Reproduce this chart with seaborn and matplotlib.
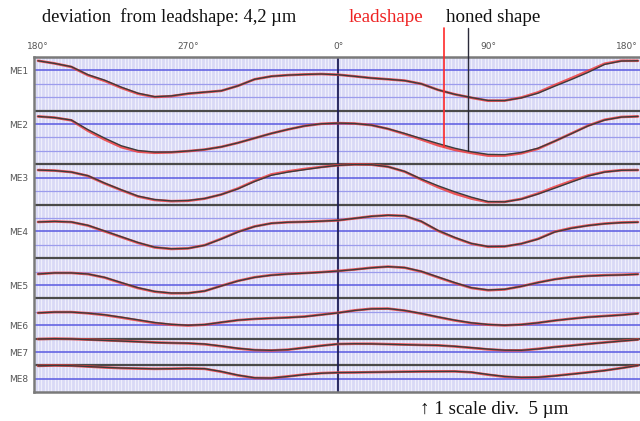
import numpy as np
import pandas as pd
import matplotlib
matplotlib.use("Agg")
import matplotlib.pyplot as plt
import seaborn as sns

# ---------------- data (deviation in scale divisions, 1 div = 5 µm) ----------------
ANGLES = list(range(-180, 181, 10))          # -180 == 180°, -90 == 270°
ROWS = ["ME1", "ME2", "ME3", "ME4", "ME5", "ME6", "ME7", "ME8"]
TICK_POS = [-180, -90, 0, 90, 180]
TICK_LABELS = ["180°", "270°", "0°", "90°", "180°"]

me1_honed = [0.72, 0.52, 0.28, -0.32, -0.73, -1.25, -1.70, -1.96, -1.90,
             -1.72, -1.62, -1.52, -1.15, -0.66, -0.44, -0.35, -0.30, -0.27, -0.32,
             -0.44, -0.57, -0.66, -0.76, -1.00, -1.45, -1.78, -2.02, -2.24, -2.25,
             -2.05, -1.70, -1.18, -0.68, -0.15, 0.45, 0.70, 0.72]
me1_lead = [0.72, 0.52, 0.26, -0.36, -0.78, -1.30, -1.74, -1.98, -1.92,
            -1.74, -1.63, -1.52, -1.15, -0.66, -0.44, -0.35, -0.30, -0.27, -0.32,
            -0.44, -0.57, -0.66, -0.76, -1.00, -1.45, -1.78, -2.04, -2.26, -2.25,
            -2.02, -1.64, -1.10, -0.58, -0.05, 0.50, 0.72, 0.72]

me2_honed = [0.57, 0.48, 0.30, -0.42, -1.05, -1.62, -1.97, -2.09, -2.09,
             -2.01, -1.90, -1.70, -1.40, -1.05, -0.70, -0.40, -0.14, 0.02, 0.07,
             0.04, -0.08, -0.35, -0.70, -1.08, -1.45, -1.80, -2.07, -2.26, -2.28,
             -2.12, -1.80, -1.28, -0.72, -0.14, 0.30, 0.52, 0.57]
me2_lead = [0.57, 0.48, 0.28, -0.50, -1.15, -1.72, -2.05, -2.14, -2.11,
            -2.02, -1.90, -1.70, -1.40, -1.05, -0.70, -0.40, -0.14, 0.02, 0.07,
            0.04, -0.08, -0.36, -0.74, -1.15, -1.58, -1.92, -2.15, -2.35, -2.35,
            -2.18, -1.84, -1.28, -0.70, -0.12, 0.32, 0.53, 0.57]

me3_honed = [0.57, 0.53, 0.42, 0.15, -0.40, -0.90, -1.37, -1.63, -1.73,
             -1.70, -1.55, -1.25, -0.83, -0.28, 0.18, 0.42, 0.60, 0.78, 0.92,
             0.98, 0.97, 0.82, 0.47, -0.10, -0.60, -1.05, -1.45, -1.78, -1.80,
             -1.60, -1.22, -0.78, -0.33, 0.12, 0.42, 0.55, 0.57]
me3_lead = [0.57, 0.53, 0.42, 0.13, -0.43, -0.93, -1.40, -1.66, -1.75,
            -1.72, -1.56, -1.25, -0.80, -0.24, 0.24, 0.47, 0.65, 0.80, 0.93,
            0.99, 0.97, 0.82, 0.45, -0.14, -0.70, -1.18, -1.55, -1.82, -1.80,
            -1.58, -1.18, -0.70, -0.25, 0.16, 0.44, 0.56, 0.57]

me4_honed = [0.70, 0.74, 0.70, 0.45, 0.03, -0.40, -0.83, -1.18, -1.30,
             -1.27, -1.04, -0.57, -0.05, 0.36, 0.60, 0.68, 0.71, 0.76, 0.82,
             0.97, 1.12, 1.20, 1.16, 0.75, 0.07, -0.45, -0.90, -1.13, -1.12,
             -0.92, -0.58, -0.05, 0.23, 0.43, 0.57, 0.65, 0.68]
me4_lead = [0.70, 0.74, 0.69, 0.43, 0.00, -0.43, -0.86, -1.20, -1.31,
            -1.27, -1.03, -0.55, -0.03, 0.37, 0.60, 0.68, 0.71, 0.76, 0.82,
            0.97, 1.12, 1.20, 1.15, 0.73, 0.04, -0.48, -0.92, -1.15, -1.13,
            -0.92, -0.56, -0.03, 0.25, 0.44, 0.58, 0.66, 0.69]

me5_honed = [0.82, 0.90, 0.90, 0.82, 0.57, 0.18, -0.20, -0.48, -0.60,
             -0.60, -0.45, -0.07, 0.30, 0.57, 0.73, 0.82, 0.88, 0.95, 1.04,
             1.15, 1.28, 1.37, 1.30, 1.02, 0.60, 0.18, -0.20, -0.37, -0.32,
             -0.10, 0.18, 0.42, 0.58, 0.67, 0.72, 0.75, 0.80]
me5_lead = [0.82, 0.90, 0.90, 0.81, 0.55, 0.15, -0.23, -0.50, -0.62,
            -0.61, -0.45, -0.06, 0.31, 0.58, 0.74, 0.83, 0.89, 0.96, 1.05,
            1.16, 1.29, 1.37, 1.29, 1.00, 0.57, 0.15, -0.22, -0.39, -0.33,
            -0.10, 0.19, 0.43, 0.59, 0.68, 0.73, 0.76, 0.81]

me6_honed = [0.92, 0.98, 0.98, 0.90, 0.78, 0.60, 0.40, 0.20, 0.07,
             0.00, 0.05, 0.22, 0.38, 0.47, 0.52, 0.57, 0.64, 0.78, 0.92,
             1.10, 1.22, 1.24, 1.10, 0.88, 0.62, 0.38, 0.18, 0.06, 0.00,
             0.05, 0.18, 0.35, 0.48, 0.60, 0.68, 0.76, 0.87]
me6_lead = [0.92, 0.98, 0.98, 0.89, 0.76, 0.57, 0.37, 0.17, 0.04,
            -0.02, 0.04, 0.21, 0.38, 0.47, 0.53, 0.58, 0.65, 0.79, 0.93,
            1.11, 1.23, 1.24, 1.09, 0.86, 0.60, 0.36, 0.16, 0.04, -0.01,
            0.05, 0.18, 0.35, 0.49, 0.61, 0.69, 0.77, 0.88]

me7_honed = [0.97, 1.00, 0.98, 0.92, 0.87, 0.82, 0.77, 0.71, 0.68,
             0.66, 0.60, 0.45, 0.28, 0.16, 0.13, 0.18, 0.32, 0.47, 0.60,
             0.62, 0.61, 0.58, 0.55, 0.52, 0.50, 0.43, 0.33, 0.22, 0.14,
             0.13, 0.23, 0.37, 0.48, 0.60, 0.71, 0.82, 0.92]
me7_lead = [0.97, 1.00, 0.98, 0.93, 0.88, 0.83, 0.78, 0.72, 0.68,
            0.65, 0.58, 0.43, 0.26, 0.15, 0.12, 0.18, 0.33, 0.48, 0.60,
            0.62, 0.62, 0.59, 0.56, 0.53, 0.50, 0.42, 0.31, 0.20, 0.13,
            0.13, 0.24, 0.38, 0.49, 0.61, 0.72, 0.83, 0.93]

me8_honed = [0.97, 1.00, 0.98, 0.92, 0.86, 0.81, 0.78, 0.75, 0.76,
             0.78, 0.76, 0.55, 0.28, 0.08, 0.06, 0.18, 0.32, 0.42, 0.47,
             0.48, 0.50, 0.51, 0.53, 0.55, 0.55, 0.56, 0.50, 0.33, 0.18,
             0.11, 0.12, 0.22, 0.35, 0.48, 0.62, 0.80, 1.00]
me8_lead = [0.97, 1.00, 0.98, 0.92, 0.85, 0.80, 0.77, 0.75, 0.76,
            0.78, 0.75, 0.53, 0.26, 0.07, 0.06, 0.19, 0.33, 0.43, 0.47,
            0.48, 0.50, 0.52, 0.54, 0.55, 0.56, 0.56, 0.49, 0.31, 0.16,
            0.10, 0.12, 0.23, 0.36, 0.49, 0.63, 0.81, 1.00]

HONED = [me1_honed, me2_honed, me3_honed, me4_honed, me5_honed, me6_honed, me7_honed, me8_honed]
LEAD = [me1_lead, me2_lead, me3_lead, me4_lead, me5_lead, me6_lead, me7_lead, me8_lead]

# ---------------- layout (in scale divisions from the bottom) ----------------
LABEL_LINES = [24, 20, 16, 12, 8, 5, 3, 1]
SEPARATORS = [21, 17, 14, 10, 7, 4, 2]
TOTAL_DIV = 25
MARK_ROW = 1           # ME2
MARK_LEAD_ANGLE = 63.6
MARK_HONED_ANGLE = 78.0

frames = []
for name, base, h, l in zip(ROWS, LABEL_LINES, HONED, LEAD):
    frames.append(pd.DataFrame({"angle": ANGLES, "y": np.array(h) + base, "row": name, "shape": "honed shape"}))
    frames.append(pd.DataFrame({"angle": ANGLES, "y": np.array(l) + base, "row": name, "shape": "leadshape"}))
df = pd.concat(frames, ignore_index=True)

sns.set_theme(style="white")
plt.rcParams["font.family"] = ["DejaVu Sans"]

W, H = 640, 421
fig = plt.figure(figsize=(6.4, 4.21), dpi=100)
ax_left, ax_right, ax_top, ax_bot = 34, 640, 57, 392.3
ax = fig.add_axes([ax_left / W, 1 - ax_bot / H, (ax_right - ax_left) / W, (ax_bot - ax_top) / H])
ax.set_facecolor("#d9d9f6")
ax.set_xlim(-182.4, 181.2)
ax.set_ylim(0, TOTAL_DIV)

# dense vertical stripes
ax.vlines(np.arange(-182, 182, 2), 0, TOTAL_DIV, colors="#f4f4fd", lw=0.9, alpha=0.85, zorder=0.5)
# horizontal grid
for k in range(1, TOTAL_DIV):
    if k in SEPARATORS:
        ax.axhline(k, color="#4a4a4a", lw=1.6, zorder=1.2)
    elif k in LABEL_LINES:
        ax.axhline(k, color="#5a5ae0", lw=1.1, zorder=1.1)
    else:
        ax.axhline(k, color="#9c9cec", lw=0.9, zorder=1.0)
ax.axvline(0, color="#1c1c55", lw=1.3, zorder=1.3)

sns.lineplot(data=df[df["shape"] == "leadshape"], x="angle", y="y", units="row", estimator=None,
             sort=False, color="#f03c3c", lw=1.9, alpha=0.85, ax=ax, zorder=3, legend=False,
             solid_joinstyle="round", solid_capstyle="round")
sns.lineplot(data=df[df["shape"] == "honed shape"], x="angle", y="y", units="row", estimator=None,
             sort=False, color="#3c3c3c", lw=1.0, ax=ax, zorder=4, legend=False,
             solid_joinstyle="round", solid_capstyle="round")

# spines
for s in ["top", "bottom", "left"]:
    ax.spines[s].set_visible(True)
    ax.spines[s].set_color("#7a7a7a")
    ax.spines[s].set_linewidth(1.8)
ax.spines["right"].set_visible(False)

ax.set_xlabel("")
ax.set_ylabel("")
ax.xaxis.tick_top()
ax.set_xticks(TICK_POS)
ax.set_xticklabels(TICK_LABELS)
ax.tick_params(axis="x", length=0, pad=4, labelsize=6.5, labelcolor="#555555")
ax.get_xticklabels()[-1].set_horizontalalignment("right")
ax.set_yticks(LABEL_LINES)
ax.set_yticklabels(ROWS)
ax.tick_params(axis="y", length=0, pad=4, labelsize=6.5, labelcolor="#555555")

# marker lines from the legend labels down to the ME2 curves
top_y = TOTAL_DIV + (ax_top - 28) / ((ax_bot - ax_top) / TOTAL_DIV)
lead_end = np.interp(MARK_LEAD_ANGLE, ANGLES, LEAD[MARK_ROW]) + LABEL_LINES[MARK_ROW]
honed_end = np.interp(MARK_HONED_ANGLE, ANGLES, HONED[MARK_ROW]) + LABEL_LINES[MARK_ROW]
ax.plot([MARK_LEAD_ANGLE, MARK_LEAD_ANGLE], [top_y, lead_end], color="#ff2a2a", lw=1.2, clip_on=False, zorder=5)
ax.plot([MARK_HONED_ANGLE, MARK_HONED_ANGLE], [top_y, honed_end], color="#2a2a3a", lw=1.0, clip_on=False, zorder=5)

serif = ["Liberation Serif", "DejaVu Serif"]
fig.text(42 / W, 1 - 17 / H, "deviation  from leadshape: 4,2 µm", family=serif, fontsize=13.3,
         color="#111111", ha="left", va="center")
fig.text(349 / W, 1 - 17 / H, "leadshape", family=serif, fontsize=13.7, color="#ee2222", ha="left", va="center")
fig.text(446 / W, 1 - 17 / H, "honed shape", family=serif, fontsize=13.7, color="#111111", ha="left", va="center")
fig.text(420 / W, 1 - 409 / H, "↑ 1 scale div.  5 µm", family=serif, fontsize=13.7, color="#111111",
         ha="left", va="center")

fig.savefig("out.png", dpi=100)
